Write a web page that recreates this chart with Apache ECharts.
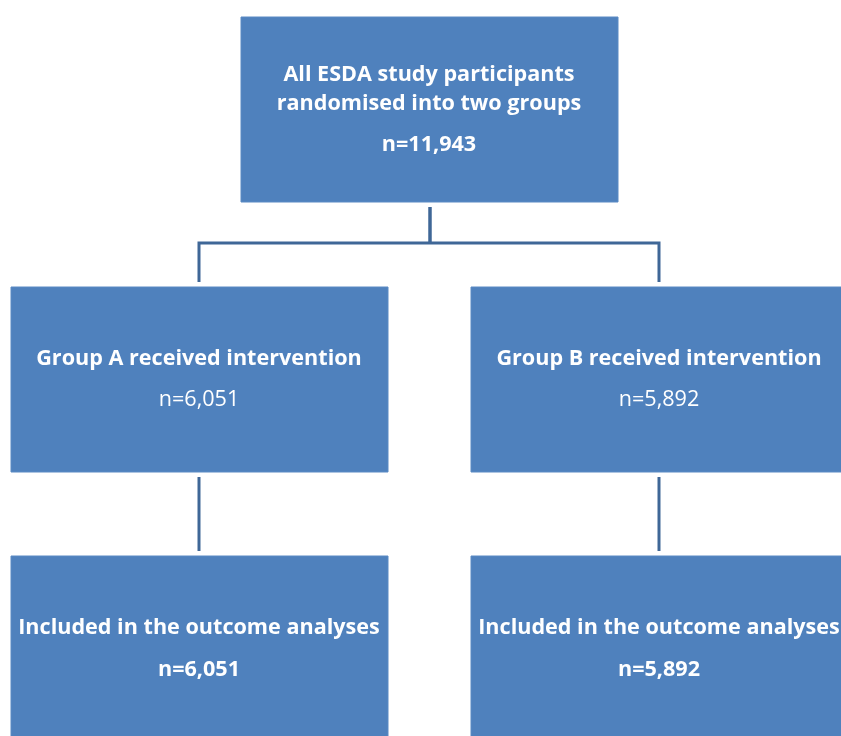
<!DOCTYPE html>
<html><head><meta charset="utf-8">
<script src="https://cdn.jsdelivr.net/npm/echarts@6/dist/echarts.min.js"></script>
<style>html,body{margin:0;padding:0;background:#fff}#c{width:841px;height:736px}</style>
</head><body><div id="c"></div>
<script>
// ---- data ----
const boxTitles = [
  "All ESDA study participants\nrandomised into two groups",
  "Group A received intervention",
  "Group B received intervention",
  "Included in the outcome analyses",
  "Included in the outcome analyses"
];
const boxCounts = [11943, 6051, 5892, 6051, 5892];
const boxParents = [null, 0, 0, 1, 2];

// ---- layout (positions / styles) ----
const layout = [
  {x0: 241, x1: 618, y0: 17,  y1: 202, titleY: 89.5, countY: 145, countBold: true},
  {x0: 11,  x1: 388, y0: 287, y1: 472, titleY: 359, countY: 400, countBold: false},
  {x0: 471, x1: 848, y0: 287, y1: 472, titleY: 359, countY: 400, countBold: false},
  {x0: 11,  x1: 388, y0: 556, y1: 760, titleY: 628, countY: 670, countBold: true},
  {x0: 471, x1: 848, y0: 556, y1: 760, titleY: 628, countY: 670, countBold: true}
];
const busY = 243;
const FILL = '#4f81bd', LINE = '#3f6797', FONT = '"Open Sans"';

const fmt = n => 'n=' + n.toLocaleString('en-US');

const boxData = boxTitles.map((t, i) => [i]);

// connectors
const connectorData = [];
boxParents.forEach((p, i) => {
  if (p === null) return;
  const P = layout[p], C = layout[i];
  if (p === 0) {
    connectorData.push({coords: [[430, P.y1 + 5], [430, busY]]});
    connectorData.push({coords: [[430, busY], [i === 1 ? 199 : 659, busY], [i === 1 ? 199 : 659, C.y0 - 5]]});
  } else {
    const x = i === 3 ? 199 : 659;
    connectorData.push({coords: [[x, P.y1 + 5], [x, C.y0 - 5]]});
  }
});

const chart = echarts.init(document.getElementById('c'));
chart.setOption({
  animation: false,
  grid: {left: 0, right: 0, top: 0, bottom: 0},
  xAxis: {type: 'value', min: 0, max: 841, show: false},
  yAxis: {type: 'value', min: 0, max: 736, inverse: true, show: false},
  series: [
    {
      type: 'lines',
      coordinateSystem: 'cartesian2d',
      polyline: true,
      silent: true,
      lineStyle: {color: LINE, width: 3, opacity: 1},
      data: connectorData
    },
    {
      type: 'custom',
      coordinateSystem: 'cartesian2d',
      data: boxData,
      renderItem: function (params, api) {
        const i = api.value(0);
        const L = layout[i];
        const p0 = api.coord([L.x0, L.y0]);
        const p1 = api.coord([L.x1, L.y1]);
        const cxText = api.coord([(L.x0 + L.x1) / 2 - 0.5, 0])[0];
        const ty = api.coord([0, L.titleY])[1];
        const cy = api.coord([0, L.countY])[1];
        return {
          type: 'group',
          children: [
            {type: 'rect', shape: {x: p0[0], y: p0[1], width: p1[0] - p0[0], height: p1[1] - p0[1]},
             style: {fill: FILL, stroke: '#5b8ac4', lineWidth: 1}},
            {type: 'text', style: {text: boxTitles[i], x: cxText, y: ty, align: 'center', verticalAlign: 'middle',
              fill: '#ffffff', font: 'bold 21.6px ' + FONT, lineHeight: 29}},
            {type: 'text', style: {text: fmt(boxCounts[i]), x: cxText, y: cy, align: 'center', verticalAlign: 'middle',
              fill: '#ffffff', font: (L.countBold ? 'bold ' : '') + '21.6px ' + FONT}}
          ]
        };
      }
    }
  ]
});
</script>
</body></html>
